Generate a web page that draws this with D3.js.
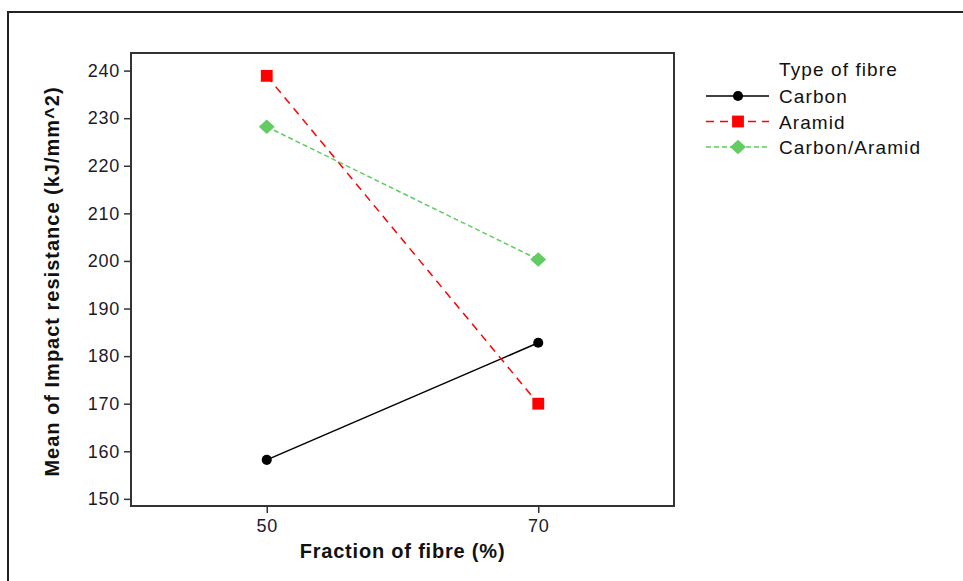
<!DOCTYPE html>
<html>
<head>
<meta charset="utf-8">
<script src="https://cdn.jsdelivr.net/npm/d3@7"></script>
<style>
  body { margin: 0; background: #fff; }
  svg { font-family: "Liberation Sans", Arial, sans-serif; }
</style>
</head>
<body>
<div class="chart"></div>
<script>
const fractions = [50, 70];
const seriesNames = ["Carbon", "Aramid", "Carbon/Aramid"];
const carbon = [158.2, 182.8];
const aramid = [238.9, 170.0];
const carbonAramid = [228.2, 200.3];
const yTicks = [150, 160, 170, 180, 190, 200, 210, 220, 230, 240];

// flat diamond like the original markers
const flatDiamond = {
  draw(ctx, size) {
    const w = Math.sqrt(size) * 0.62, h = Math.sqrt(size) * 0.56;
    ctx.moveTo(0, -h); ctx.lineTo(w, 0); ctx.lineTo(0, h); ctx.lineTo(-w, 0); ctx.closePath();
  }
};

const styles = {
  "Carbon": { color: "#000", dash: null, shape: d3.symbolCircle, size: 80 },
  "Aramid": { color: "#ff0000", dash: "8,6", shape: d3.symbolSquare, size: 140 },
  "Carbon/Aramid": { color: "#62cc62", dash: "5,3", shape: flatDiamond, size: 165 }
};

const series = [
  { name: "Carbon", values: carbon },
  { name: "Aramid", values: aramid },
  { name: "Carbon/Aramid", values: carbonAramid }
];

const W = 963, H = 581;
const plot = { left: 131, top: 53, right: 674, bottom: 506 };

const svg = d3.select(".chart").append("svg")
  .attr("width", W)
  .attr("height", H);

// outer frame
svg.append("rect")
  .attr("x", 8).attr("y", 12)
  .attr("width", W + 20).attr("height", H + 20)
  .attr("fill", "none").attr("stroke", "#222").attr("stroke-width", 2);

const x = d3.scaleLinear().domain([40, 80]).range([plot.left, plot.right]);
const y = d3.scaleLinear().domain([148.5, 243.7]).range([plot.bottom, plot.top]);

// plot box
svg.append("rect")
  .attr("x", plot.left).attr("y", plot.top)
  .attr("width", plot.right - plot.left).attr("height", plot.bottom - plot.top)
  .attr("fill", "none").attr("stroke", "#333").attr("stroke-width", 2);

const yAxis = svg.append("g")
  .attr("transform", `translate(${plot.left},0)`)
  .call(d3.axisLeft(y).tickValues(yTicks).tickSize(7).tickPadding(4));
const xAxis = svg.append("g")
  .attr("transform", `translate(0,${plot.bottom})`)
  .call(d3.axisBottom(x).tickValues(fractions).tickSize(7).tickPadding(6));

[yAxis, xAxis].forEach(g => {
  g.select(".domain").remove();
  g.selectAll(".tick line").attr("stroke", "#333").attr("stroke-width", 1.5);
  g.selectAll(".tick text")
    .attr("fill", "#1a1a2e")
    .style("font-size", "18px")
    .style("letter-spacing", "0.7px")
    .style("font-family", "Liberation Sans, Arial, sans-serif");
});

// axis titles
svg.append("text")
  .attr("x", (plot.left + plot.right) / 2)
  .attr("y", 558)
  .attr("text-anchor", "middle")
  .style("font-size", "20px").style("font-weight", "bold")
  .style("letter-spacing", "0.8px")
  .attr("fill", "#111")
  .text("Fraction of fibre (%)");

svg.append("text")
  .attr("transform", `translate(59,${(plot.top + plot.bottom) / 2 + 2}) rotate(-90)`)
  .attr("text-anchor", "middle")
  .style("font-size", "20px").style("font-weight", "bold")
  .style("letter-spacing", "1px")
  .attr("fill", "#111")
  .text("Mean of Impact resistance (kJ/mm^2)");

// lines and markers
const line = d3.line()
  .x((d, i) => x(fractions[i]))
  .y(d => y(d));

series.forEach(s => {
  const st = styles[s.name];
  svg.append("path")
    .datum(s.values)
    .attr("d", line)
    .attr("fill", "none")
    .attr("stroke", st.color)
    .attr("stroke-width", 1.5)
    .attr("stroke-dasharray", st.dash);
  svg.selectAll(null)
    .data(s.values)
    .enter().append("path")
    .attr("d", d3.symbol().type(st.shape).size(st.size))
    .attr("transform", (d, i) => `translate(${x(fractions[i])},${y(d)})`)
    .attr("fill", st.color);
});

// legend
const legend = svg.append("g").attr("transform", "translate(706,0)");
legend.append("text")
  .attr("x", 73).attr("y", 76)
  .style("font-size", "19px").style("letter-spacing", "1.1px").attr("fill", "#111")
  .text("Type of fibre");

seriesNames.forEach((name, i) => {
  const st = styles[name];
  const yy = 96 + i * 25.5;
  const g = legend.append("g").attr("transform", `translate(0,${yy})`);
  g.append("line")
    .attr("x1", 0).attr("x2", 63).attr("y1", 0).attr("y2", 0)
    .attr("stroke", st.color).attr("stroke-width", 1.5)
    .attr("stroke-dasharray", st.dash);
  g.append("path")
    .attr("d", d3.symbol().type(st.shape).size(st.size))
    .attr("transform", "translate(32,0)")
    .attr("fill", st.color);
  g.append("text")
    .attr("x", 73).attr("y", 7)
    .style("font-size", "19px").style("letter-spacing", "1.1px").attr("fill", "#111")
    .text(name);
});
</script>
</body>
</html>
